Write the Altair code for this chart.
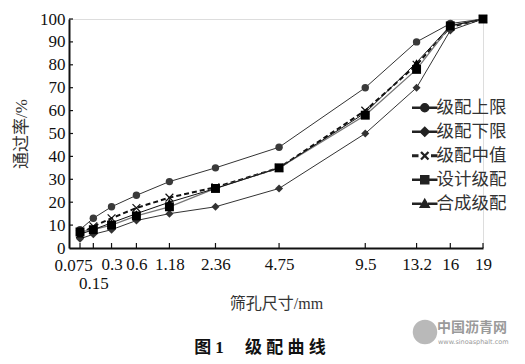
import altair as alt
import pandas as pd

# ---------------- data ----------------
sieve = [0.075, 0.15, 0.3, 0.6, 1.18, 2.36, 4.75, 9.5, 13.2, 16, 19]
upper = [8, 13, 18, 23, 29, 35, 44, 70, 90, 98, 100]
lower = [4, 6, 8, 12, 15, 18, 26, 50, 70, 95, 100]
middle = [6, 9.5, 13, 17.5, 22, 26.5, 35, 60, 80, 96.5, 100]
design = [7, 8, 10, 14, 18, 26, 35, 58, 78, 97, 100]
synth = [6, 8, 11, 15, 20, 26, 35, 59, 81, 97, 100]
series_names = ["级配上限", "级配下限", "级配中值", "设计级配", "合成级配"]
y_ticks = [10, 20, 30, 40, 50, 60, 70, 80, 90, 100]

rows = []
for name, vals in zip(series_names, [upper, lower, middle, design, synth]):
    for s, v in zip(sieve, vals):
        rows.append({"sieve": s, "pass": v, "series": name})
df = pd.DataFrame(rows)

W, H = 414, 229
SERIF = "Liberation Serif, Noto Sans CJK SC"
CJK = "Noto Sans CJK SC"

x_scale = alt.Scale(type="pow", exponent=0.45, domain=[0.0337, 19], nice=False, zero=False)
y_scale = alt.Scale(domain=[0, 100], nice=False)

x_axis = alt.Axis(
    values=sieve, format=".3~f", title="筛孔尺寸/mm", titleFont=SERIF, titleFontSize=16,
    titleFontWeight="normal", titleColor="#333", titlePadding=4,
    labelFont=SERIF, labelFontSize=17, labelColor="#111",
    labelOverlap=False, labelFlush=False, labelBound=False,
    labelOffset={"condition": {"test": "datum.value == 0.075", "value": -7}, "value": 0},
    labelPadding={"condition": [{"test": "datum.value == 0.15", "value": 27},
                                {"test": "datum.value == 0.075", "value": 9}], "value": 8},
    ticks=False, domainColor="#111", domainWidth=2, grid=False,
)
y_axis = alt.Axis(
    values=[0] + y_ticks, title="通过率/%", titleFont=SERIF, titleFontSize=17,
    titleFontWeight="normal", titleColor="#333", titlePadding=9,
    labelFont=SERIF, labelFontSize=17, labelColor="#111", labelPadding=4,
    labelOverlap=False, labelFlush=False, labelBound=False,
    ticks=False, domainColor="#111", domainWidth=2, grid=False,
)

x_enc = alt.X("sieve:Q", scale=x_scale, axis=x_axis)
y_enc = alt.Y("pass:Q", scale=y_scale, axis=y_axis)

base = alt.Chart(df)

styles = {
    "级配上限": (dict(color="#333", strokeWidth=1),
                 dict(shape="circle", size=55, color="#3a3a3a", filled=True, opacity=1)),
    "级配下限": (dict(color="#333", strokeWidth=1),
                 dict(shape="diamond", size=64, color="#333", filled=True, opacity=1)),
    "级配中值": (dict(color="#111", strokeWidth=2, strokeDash=[5, 3]),
                 dict(shape="M-1,-1L1,1M-1,1L1,-1", size=60, color="#111", filled=False,
                      strokeWidth=1.2, opacity=1)),
    "设计级配": (dict(color="#777", strokeWidth=1.3),
                 dict(shape="square", size=80, color="#000", filled=True, opacity=1)),
    "合成级配": (dict(color="#111", strokeWidth=1),
                 dict(shape="triangle-up", size=60, color="#000", filled=True, opacity=1)),
}

layers = []
for name in series_names:
    lst, pst = styles[name]
    layers.append(base.transform_filter(alt.datum.series == name)
                  .mark_line(**lst).encode(x=x_enc, y=y_enc))
for name in series_names:
    lst, pst = styles[name]
    layers.append(base.transform_filter(alt.datum.series == name)
                  .mark_point(**pst).encode(x=x_enc, y=y_enc))

# inward ticks
xt = alt.Chart(pd.DataFrame({"sieve": sieve})).mark_rule(color="#111", strokeWidth=1.2).encode(
    x=x_enc, y=alt.value(H), y2=alt.value(H - 5))
yt = alt.Chart(pd.DataFrame({"pass": y_ticks})).mark_rule(color="#111", strokeWidth=1.2).encode(
    y=y_enc, x=alt.value(0), x2=alt.value(4))
layers += [xt, yt]

# legend symbols: line + marker, drawn as filled shapes
L = "M-2.4,-0.08H-0.8V0.08H-2.4Z"
R = "M0.8,-0.08H2.4V0.08H0.8Z"
legend_paths = [
    L + R + "M-0.8,0A0.8,0.8 0 1,0 0.8,0A0.8,0.8 0 1,0 -0.8,0Z",
    L + R + "M-0.9,0L0,-0.9L0.9,0L0,0.9Z",
    "M-2.4,-0.14H-1.4V0.14H-2.4Z" + "M1.4,-0.14H2.4V0.14H1.4Z"
    + "M-0.7,-0.58L-0.58,-0.7L0.7,0.58L0.58,0.7Z"
    + "M0.58,-0.7L0.7,-0.58L-0.58,0.7L-0.7,0.58Z",
    L + R + "M-0.8,-0.8H0.8V0.8H-0.8Z",
    L + R + "M0,-0.9L0.9,0.7H-0.9Z",
]
legend_layer = base.transform_filter("false").mark_point(
    filled=True, opacity=1, fill="#222", stroke="#222", strokeWidth=1
).encode(
    x=x_enc, y=y_enc,
    shape=alt.Shape("series:N", scale=alt.Scale(domain=series_names, range=legend_paths),
                    legend=alt.Legend(
                        orient="none", legendX=347, legendY=80, title=None,
                        symbolSize=100, symbolFillColor="#222", symbolOpacity=1,
                        labelFont=CJK, labelFontSize=17.5, labelColor="#333",
                        labelOffset=3, rowPadding=5, padding=0)),
)
layers.append(legend_layer)

# caption and watermark
caption = alt.Chart(pd.DataFrame({"t": ["图 1　  级 配 曲 线"]})).mark_text(
    font=SERIF, fontSize=17, fontWeight="bold", color="#111", align="center", baseline="middle"
).encode(text="t:N", x=alt.value(191), y=alt.value(328.5))
wm_logo = alt.Chart(pd.DataFrame({"t": ["logo"]})).mark_point(
    shape="circle", filled=True, size=600, color="#a8a8a8", opacity=0.8
).encode(x=alt.value(356), y=alt.value(313))
wm_text = alt.Chart(pd.DataFrame({"t": ["中国沥青网"]})).mark_text(
    font=CJK, fontSize=14, fontWeight="bold", color="#9a9a9a", align="left", baseline="middle"
).encode(text="t:N", x=alt.value(368), y=alt.value(309))
wm_url = alt.Chart(pd.DataFrame({"t": ["www.sinoasphalt.com"]})).mark_text(
    font="DejaVu Sans", fontSize=6.5, color="#9a9a9a", align="left", baseline="middle"
).encode(text="t:N", x=alt.value(369), y=alt.value(323))
layers += [caption, wm_logo, wm_text, wm_url]

chart = alt.layer(*layers).properties(
    width=W, height=H,
    padding={"left": 4, "top": 2, "right": 0, "bottom": 0},
).configure_view(stroke=None).configure(background="white")

chart.save("out.html", embed_options={"renderer": "svg", "actions": False})
